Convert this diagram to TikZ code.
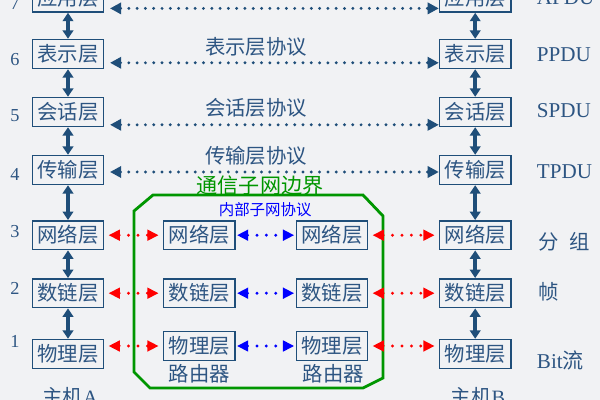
\documentclass[tikz,border=0pt]{standalone}
\usepackage{fontspec}
\setmainfont{Liberation Serif}
\newfontfamily\cjk{Noto Sans CJK SC}
\usetikzlibrary{arrows.meta}

\definecolor{layblue}{RGB}{31,78,121}
\definecolor{laytext}{RGB}{45,85,130}
\definecolor{netgreen}{RGB}{0,150,0}
\definecolor{bggray}{RGB}{241,242,244}

\begin{document}
\begin{tikzpicture}[
	layer/.style={draw=layblue, line width=1.1pt, text=laytext, minimum width=1.78cm, minimum height=0.72cm, inner sep=0pt, font=\cjk\fontsize{14.5}{16}\selectfont},
	proto/.style={text=laytext, font=\cjk\fontsize{14.5}{16}\selectfont},
	pdu/.style={text=laytext, anchor=west, font=\fontsize{15}{17}\selectfont},
	num/.style={text=laytext, font=\fontsize{13}{15}\selectfont},
	updown/.style={draw=layblue, line width=2.6pt, {Triangle[length=6pt,width=7.5pt]}-{Triangle[length=6pt,width=7.5pt]}},
	peer/.style={draw=layblue, line width=2.3pt, line cap=round, dash pattern=on 0pt off 5.9pt, shorten <=4pt, {Triangle[length=8pt,width=8pt]}-{Triangle[length=8pt,width=8pt]}},
	hop/.style={draw=red, line width=2.3pt, line cap=round, dash pattern=on 0pt off 6.7pt, shorten <=3pt, shorten >=3pt, {Triangle[length=8pt,width=7.5pt]}-{Triangle[length=8pt,width=7.5pt]}},
	inner/.style={hop, draw=blue, shorten <=1pt, shorten >=1pt}
]
			\fill[bggray] (0,0) rectangle (15,-10);
			\useasboundingbox (0,0) rectangle (15,-10);

			% host A
			\node (a7) [layer] at (1.7,0.06) {应用层};
			\node (a6) [layer] at (1.7,-1.35) {表示层};
			\node (a5) [layer] at (1.7,-2.8) {会话层};
			\node (a4) [layer] at (1.7,-4.25) {传输层};
			\node (a3) [layer] at (1.7,-5.88) {网络层};
			\node (a2) [layer] at (1.7,-7.33) {数链层};
			\node (a1) [layer] at (1.7,-8.85) {物理层};
			\node (hosta) [proto, font=\fontsize{14.5}{16}\selectfont] at (1.75,-9.93) {{\cjk 主机}A};

			% host B
			\node (b7) [layer] at (11.88,0.06) {应用层};
			\node (b6) [layer] at (11.88,-1.35) {表示层};
			\node (b5) [layer] at (11.88,-2.8) {会话层};
			\node (b4) [layer] at (11.88,-4.25) {传输层};
			\node (b3) [layer] at (11.88,-5.88) {网络层};
			\node (b2) [layer] at (11.88,-7.33) {数链层};
			\node (b1) [layer] at (11.88,-8.85) {物理层};
			\node (hostb) [proto, font=\fontsize{14.5}{16}\selectfont] at (11.95,-9.93) {{\cjk 主机}B};

			% routers
			\node (ra3) [layer] at (4.98,-5.88) {网络层};
			\node (ra2) [layer] at (4.98,-7.33) {数链层};
			\node (ra1) [layer] at (4.98,-8.65) {物理层};
			\node (rta) [proto] at (4.98,-9.35) {路由器};
			\node (rb3) [layer] at (8.3,-5.88) {网络层};
			\node (rb2) [layer] at (8.3,-7.33) {数链层};
			\node (rb1) [layer] at (8.3,-8.65) {物理层};
			\node (rtb) [proto] at (8.33,-9.35) {路由器};

			% subnet border
			\draw [netgreen, line width=2pt] (3.35,-5.275) -- (3.825,-4.875) -- (9.075,-4.875) -- (9.575,-5.4)
				-- (9.575,-9.45) -- (9.075,-9.7) -- (3.75,-9.7) -- (3.35,-9.3) -- cycle;
			\node (border) [text=netgreen, font=\cjk\fontsize{15}{17}\selectfont] at (6.5,-4.63) {通信子网边界};
			\node (subproto) [text=blue, font=\cjk\fontsize{11}{13}\selectfont] at (6.63,-5.25) {内部子网协议};

			% layer numbers
			\node (n7) [num] at (0.375,-0.08) {7};
			\node (n6) [num] at (0.375,-1.48) {6};
			\node (n5) [num] at (0.375,-2.9) {5};
			\node (n4) [num] at (0.375,-4.35) {4};
			\node (n3) [num] at (0.375,-5.78) {3};
			\node (n2) [num] at (0.375,-7.22) {2};
			\node (n1) [num] at (0.375,-8.53) {1};

			% data units
			\node (u7) [pdu] at (13.3,0.07) {APDU};
			\node (u6) [pdu] at (13.3,-1.37) {PPDU};
			\node (u5) [pdu] at (13.3,-2.77) {SPDU};
			\node (u4) [pdu] at (13.3,-4.3) {TPDU};
			\node (u3) [pdu, font=\cjk\fontsize{14.5}{16}\selectfont] at (13.35,-6.05) {分\hspace{0.5em}组};
			\node (u2) [pdu, font=\cjk\fontsize{14.5}{16}\selectfont] at (13.35,-7.3) {帧};
			\node (u1) [pdu] at (13.3,-9.0) {Bit{\cjk 流}};

			% peer protocols
			\node (p6) [proto] at (6.4,-1.18) {表示层协议};
			\node (p5) [proto] at (6.4,-2.7) {会话层协议};
			\node (p4) [proto] at (6.4,-3.9) {传输层协议};

			\path (a7) edge [updown] (a6);
			\path (a6) edge [updown] (a5);
			\path (a5) edge [updown] (a4);
			\path (a4) edge [updown] (a3);
			\path (a3) edge [updown] (a2);
			\path (a2) edge [updown] (a1);
			\path (b7) edge [updown] (b6);
			\path (b6) edge [updown] (b5);
			\path (b5) edge [updown] (b4);
			\path (b4) edge [updown] (b3);
			\path (b3) edge [updown] (b2);
			\path (b2) edge [updown] (b1);

			\path ([yshift=-0.27cm]a7.east) edge [peer] ([yshift=-0.27cm]b7.west);
			\path ([yshift=-0.22cm]a6.east) edge [peer] ([yshift=-0.22cm]b6.west);
			\path ([yshift=-0.32cm]a5.east) edge [peer] ([yshift=-0.32cm]b5.west);
			\path ([yshift=-0.05cm]a4.east) edge [peer] ([yshift=-0.05cm]b4.west);

			\path (a3) edge [hop] (ra3);
			\path (a2) edge [hop] (ra2);
			\path (a1.east |- ra1.west) edge [hop] (ra1);
			\path (rb3) edge [hop] (b3);
			\path (rb2) edge [hop] (b2);
			\path (rb1) edge [hop] (b1.west |- rb1.east);

			\path (ra3) edge [inner] (rb3);
			\path (ra2) edge [inner] (rb2);
			\path (ra1) edge [inner] (rb1);
\end{tikzpicture}
\end{document}
